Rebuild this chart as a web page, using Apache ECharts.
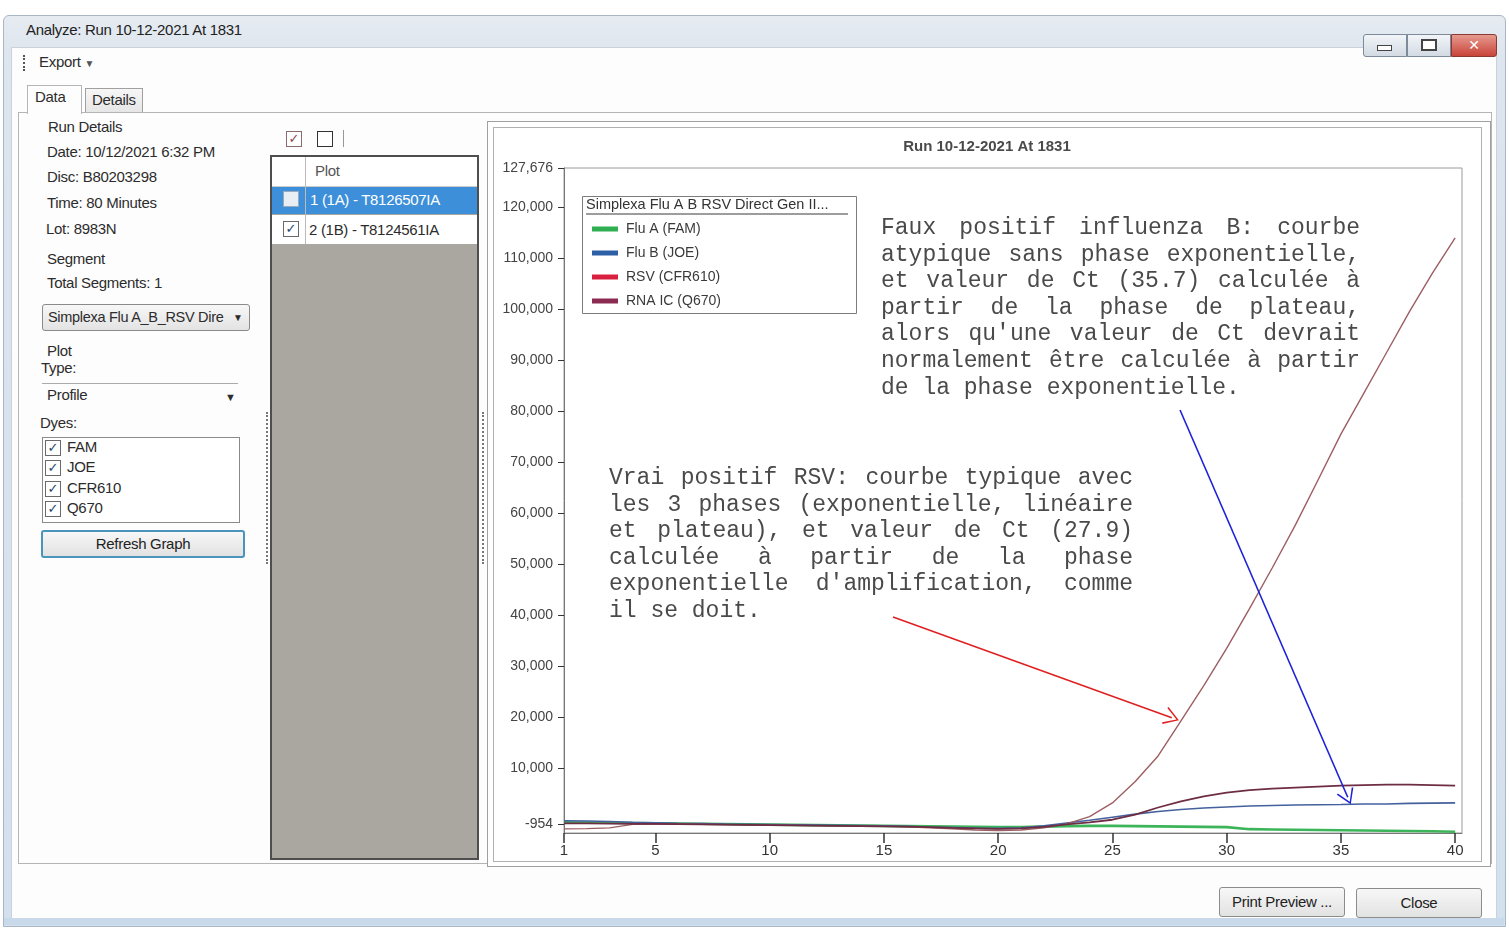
<!DOCTYPE html>
<html><head><meta charset="utf-8">
<script src="https://cdn.jsdelivr.net/npm/echarts@6/dist/echarts.min.js"></script>
<style>
html,body{margin:0;padding:0;width:1509px;height:929px;overflow:hidden;background:#fff;font-family:"Liberation Sans",Arial,sans-serif;color:#2e2e2e;}
.a{position:absolute;}
.t{position:absolute;font-size:15px;letter-spacing:-0.3px;white-space:nowrap;line-height:18px;color:#2c2c2c;}
.cb{position:absolute;width:14px;height:14px;border:1px solid #6a6a6a;background:#fff;font-family:"DejaVu Sans",sans-serif;font-size:13px;line-height:14px;text-align:center;color:#24476e;font-weight:bold;}
.btn{position:absolute;border:1px solid #8c8c8c;border-radius:3px;background:linear-gradient(#f7f7f7,#e2e2e2);font-size:15px;letter-spacing:-0.3px;text-align:center;color:#222;}
.ann{position:absolute;font-family:"Liberation Mono","Courier New",monospace;font-size:23px;line-height:26.6px;color:#4a4a4a;z-index:10;pointer-events:none;}
.ann div{text-align:justify;text-align-last:justify;white-space:nowrap;}
.ann div.last{text-align:left;text-align-last:left;}
</style></head><body>
<!-- window frame -->
<div class="a" style="left:3px;top:15px;width:1501px;height:910px;border:1px solid #aab6c4;border-radius:6px 6px 0 0;background:linear-gradient(#e6ebf1,#dde5ee 40px,#d3e0ee);"></div>
<div class="t" style="left:26px;top:21px;color:#222;">Analyze: Run 10-12-2021 At 1831</div>
<!-- client area -->
<div class="a" style="left:11px;top:47px;width:1484px;height:870px;background:#fdfdfd;border:1px solid #c9d1da;"></div>
<!-- window buttons -->
<div class="a" style="left:1363px;top:34px;width:42px;height:21px;border:1px solid #7d8a99;border-radius:3px 0 0 3px;background:linear-gradient(#f2f5f8,#d2dae3);"></div>
<div class="a" style="left:1377px;top:45px;width:13px;height:4px;border:1px solid #444;background:#fff;"></div>
<div class="a" style="left:1407px;top:34px;width:42px;height:21px;border:1px solid #7d8a99;background:linear-gradient(#f2f5f8,#d2dae3);"></div>
<div class="a" style="left:1421px;top:39px;width:12px;height:8px;border:2px solid #444;background:#fff;"></div>
<div class="a" style="left:1451px;top:34px;width:44px;height:21px;border:1px solid #8a3a33;border-radius:0 3px 3px 0;background:linear-gradient(#e79a8f,#c9443a);color:#fff;font:bold 14px 'DejaVu Sans';text-align:center;line-height:21px;">✕</div>
<div class="a" style="left:23px;top:55px;width:2px;height:16px;border-left:2px dotted #555;"></div>
<div class="t" style="left:39px;top:53px;">Export <span style="font-size:10px;color:#555;">▼</span></div>
<!-- tabs -->
<div class="a" style="left:18px;top:112px;width:1472px;height:750px;border:1px solid #b5b5b5;background:#fdfdfd;"></div>
<div class="a" style="left:27px;top:85px;width:53px;height:28px;border:1px solid #b5b5b5;border-bottom:none;background:#fdfdfd;"></div>
<div class="t" style="left:35px;top:88px;">Data</div>
<div class="a" style="left:85px;top:88px;width:56px;height:23px;border:1px solid #a0a0a0;border-bottom:none;background:linear-gradient(#f6f6f6,#e6e6e6);"></div>
<div class="t" style="left:92px;top:91px;">Details</div>
<!-- left panel -->
<div class="t" style="left:48px;top:118px;">Run Details</div>
<div class="t" style="left:47px;top:143px;">Date: 10/12/2021 6:32 PM</div>
<div class="t" style="left:47px;top:168px;">Disc: B80203298</div>
<div class="t" style="left:47px;top:194px;">Time: 80 Minutes</div>
<div class="t" style="left:46px;top:220px;">Lot: 8983N</div>
<div class="t" style="left:47px;top:250px;">Segment</div>
<div class="t" style="left:47px;top:274px;">Total Segments: 1</div>
<div class="a" style="left:42px;top:304px;width:206px;height:25px;border:1px solid #8a8a8a;border-radius:3px;background:linear-gradient(#f7f7f7,#e3e3e3);"></div>
<div class="t" style="left:48px;top:308px;font-size:14.5px;">Simplexa Flu A_B_RSV Dire</div>
<div class="t" style="left:233px;top:309px;font-size:10px;">▼</div>
<div class="t" style="left:47px;top:342px;">Plot</div>
<div class="t" style="left:41px;top:359px;">Type:</div>
<div class="a" style="left:42px;top:383px;width:196px;height:0;border-top:1px solid #aaa;"></div>
<div class="t" style="left:47px;top:386px;">Profile</div>
<div class="t" style="left:225px;top:388px;font-size:11px;">▼</div>
<div class="t" style="left:40px;top:414px;">Dyes:</div>
<div class="a" style="left:42px;top:437px;width:196px;height:84px;border:1px solid #8a8a8a;background:#fff;"></div>
<div class="cb" style="left:45px;top:440px;">✓</div><div class="t" style="left:67px;top:438px;">FAM</div>
<div class="cb" style="left:45px;top:460px;">✓</div><div class="t" style="left:67px;top:458px;">JOE</div>
<div class="cb" style="left:45px;top:481px;">✓</div><div class="t" style="left:67px;top:479px;">CFR610</div>
<div class="cb" style="left:45px;top:501px;">✓</div><div class="t" style="left:67px;top:499px;">Q670</div>
<div class="btn" style="left:41px;top:530px;width:200px;height:24px;line-height:24px;border:2px solid #4a95bb;">Refresh Graph</div>
<!-- splitters -->
<div class="a" style="left:266px;top:412px;width:0;height:152px;border-left:2px dotted #777;"></div>
<div class="a" style="left:482px;top:412px;width:0;height:152px;border-left:2px dotted #777;"></div>
<!-- plot list -->
<div class="cb" style="left:286px;top:131px;color:#8a4a50;border-color:#8a6a6a;">✓</div>
<div class="cb" style="left:317px;top:131px;border-color:#333;"></div>
<div class="a" style="left:343px;top:130px;width:0;height:17px;border-left:1px solid #999;"></div>
<div class="a" style="left:270px;top:155px;width:205px;height:701px;border:2px solid #4e4e4e;background:#aaa7a1;"></div>
<div class="a" style="left:272px;top:157px;width:205px;height:29px;background:#fff;border-bottom:1px solid #ccc;"></div>
<div class="t" style="left:315px;top:162px;color:#555;">Plot</div>
<div class="a" style="left:272px;top:187px;width:205px;height:27px;background:#3c8fd8;"></div>
<div class="cb" style="left:283px;top:191px;background:#e8eef4;border-color:#9ab;"></div>
<div class="t" style="left:310px;top:191px;color:#fff;">1 (1A) - T8126507IA</div>
<div class="a" style="left:272px;top:215px;width:205px;height:29px;background:#fff;"></div>
<div class="cb" style="left:283px;top:221px;">✓</div>
<div class="t" style="left:309px;top:221px;">2 (1B) - T8124561IA</div>
<div class="a" style="left:305px;top:157px;width:0;height:87px;border-left:1px solid #bbb;"></div>
<!-- chart panel -->
<div class="a" style="left:487px;top:121px;width:1002px;height:744px;border:1px solid #a0a0a0;background:#fff;"></div>
<div class="a" style="left:493px;top:127px;width:987px;height:733px;border:1px solid #b0b0b0;background:#fff;"></div>
<div id="chart" class="a" style="left:494px;top:128px;width:986px;height:732px;"></div>
<!-- annotations -->
<div class="ann" style="left:881px;top:215px;width:479px;">
<div>Faux positif influenza B: courbe</div>
<div>atypique sans phase exponentielle,</div>
<div>et valeur de Ct (35.7) calculée à</div>
<div>partir de la phase de plateau,</div>
<div>alors qu'une valeur de Ct devrait</div>
<div>normalement être calculée à partir</div>
<div class="last">de la phase exponentielle.</div>
</div>
<div class="ann" style="left:609px;top:465px;width:524px;">
<div>Vrai positif RSV: courbe typique avec</div>
<div>les 3 phases (exponentielle, linéaire</div>
<div>et plateau), et valeur de Ct (27.9)</div>
<div>calculée à partir de la phase</div>
<div>exponentielle d'amplification, comme</div>
<div class="last">il se doit.</div>
</div>
<!-- bottom buttons -->
<div class="btn" style="left:1219px;top:887px;width:124px;height:28px;line-height:28px;">Print Preview ...</div>
<div class="btn" style="left:1356px;top:888px;width:124px;height:28px;line-height:28px;">Close</div>
<div class="a" style="left:4px;top:918px;width:1500px;height:7px;background:#c8d9ea;"></div>
<script>
// ---- data ----
const cycles = [1,2,3,4,5,6,7,8,9,10,11,12,13,14,15,16,17,18,19,20,21,22,23,24,25,26,27,28,29,30,31,32,33,34,35,36,37,38,39,40];
const famValues = [-600,-650,-700,-750,-800,-850,-900,-950,-1000,-1050,-1100,-1150,-1200,-1250,-1300,-1350,-1400,-1450,-1500,-1550,-1550,-1450,-1350,-1300,-1300,-1350,-1400,-1450,-1500,-1550,-1950,-2000,-2050,-2100,-2150,-2200,-2250,-2300,-2350,-2450];
const joeValues = [-300,-350,-450,-600,-700,-800,-850,-950,-1000,-1050,-1100,-1150,-1200,-1250,-1300,-1400,-1550,-1650,-1750,-1800,-1700,-1300,-750,-200,400,1000,1500,1900,2200,2400,2600,2700,2800,2850,2900,3000,3000,3100,3150,3200];
const cfrValues = [-1900,-1850,-1700,-1000,-950,-950,-1000,-1050,-1100,-1150,-1200,-1250,-1300,-1350,-1400,-1500,-1700,-1900,-2100,-2200,-2100,-1700,-900,500,3200,7400,12400,19300,26200,33500,41300,49300,57600,66500,75500,83500,91500,99500,107000,114000];
const q670Values = [-800,-800,-850,-900,-900,-950,-1000,-1050,-1100,-1150,-1200,-1250,-1300,-1350,-1400,-1450,-1550,-1700,-1800,-1900,-1800,-1500,-1000,-600,-100,900,2300,3500,4500,5200,5700,6000,6200,6400,6600,6700,6800,6800,6700,6600];
const seriesNames = ['Flu A (FAM)','Flu B (JOE)','RSV (CFR610)','RNA IC (Q670)'];
const xTicks = [1,5,10,15,20,25,30,35,40];
const yTicks = [-954,10000,20000,30000,40000,50000,60000,70000,80000,90000,100000,110000,120000,127676];
const chartTitle = 'Run 10-12-2021 At 1831';
const legendTitle = 'Simplexa Flu A B RSV Direct Gen II...';

const legendColors = ['#2fae52','#2d5fa6','#d9203f','#8b2b52'];
const lineColors = ['#3cb45a','#44619e','#9c5e62','#6e2d42'];
const pair = v => v.map((y,i)=>[cycles[i], y]);
const chevron = 'path://M10,0 L20,18 L18.4,19 L10,3.2 L1.6,19 L0,18 Z';

const chart = echarts.init(document.getElementById('chart'), null, {renderer:'canvas'});
chart.setOption({
  animation:false,
  title:{text:chartTitle,left:'center',top:6,textStyle:{fontFamily:'Liberation Sans',fontSize:15,fontWeight:'bold',color:'#4a4a4a'}},
  grid:{left:70,top:40,width:898,height:665,show:true,borderColor:'#9a9a9a',borderWidth:1,backgroundColor:'transparent'},
  legend:{
    orient:'vertical',left:93,top:88,itemWidth:26,itemHeight:5,itemGap:8,icon:'rect',
    textStyle:{fontFamily:'Liberation Sans',fontSize:14,color:'#3a3a3a',lineHeight:16,padding:[0,0,0,3]},
    data:seriesNames.map((n,i)=>({name:n,itemStyle:{color:legendColors[i]}})),
    selectedMode:false
  },
  graphic:[
    {type:'rect',left:88,top:68,shape:{width:274,height:117},style:{fill:'#fff',stroke:'#7c7c7c',lineWidth:1},z:-1},
    {type:'text',left:92,top:69,style:{text:legendTitle,font:'14.5px "Liberation Sans"',fill:'#333'}},
    {type:'line',shape:{x1:92,y1:86,x2:354,y2:86},style:{stroke:'#3a3a3a',lineWidth:1}}
  ],
  xAxis:{type:'value',min:1,max:40.3,
    axisLine:{show:true,onZero:false,lineStyle:{color:'#777'}},
    axisTick:{show:true,length:10,lineStyle:{color:'#333',width:1.5},customValues:xTicks},
    axisLabel:{customValues:xTicks,margin:10,fontFamily:'Liberation Sans',fontSize:15,color:'#333'},
    splitLine:{show:false}},
  yAxis:{type:'value',min:-2700,max:127676,
    axisLine:{show:true,onZero:false,lineStyle:{color:'#777'}},
    axisTick:{show:true,length:6,lineStyle:{color:'#333'},customValues:yTicks},
    axisLabel:{customValues:yTicks,margin:11,fontFamily:'Liberation Sans',fontSize:14,color:'#444',
      formatter:v=>Math.round(v).toLocaleString('en-US')},
    splitLine:{show:false}},
  series:[
    {name:seriesNames[0],type:'line',data:pair(famValues),showSymbol:false,lineStyle:{color:lineColors[0],width:2.6},itemStyle:{color:lineColors[0]},
      markLine:{silent:true,symbol:['none',chevron],symbolSize:[18,15],label:{show:false},
        lineStyle:{type:'solid',width:1.6},
        data:[
          [{coord:[15.4,39650],lineStyle:{color:'#e02020',width:1.6,type:'solid'},itemStyle:{color:'#e02020'}},{coord:[27.6,19900]}],
          [{coord:[27.96,80230],lineStyle:{color:'#1d22d8',width:1.6,type:'solid'},itemStyle:{color:'#1d22d8'}},{coord:[35.3,4300]}]
        ]}},
    {name:seriesNames[1],type:'line',data:pair(joeValues),showSymbol:false,lineStyle:{color:lineColors[1],width:1.6},itemStyle:{color:lineColors[1]}},
    {name:seriesNames[2],type:'line',data:pair(cfrValues),showSymbol:false,lineStyle:{color:lineColors[2],width:1.4},itemStyle:{color:lineColors[2]}},
    {name:seriesNames[3],type:'line',data:pair(q670Values),showSymbol:false,lineStyle:{color:lineColors[3],width:1.8},itemStyle:{color:lineColors[3]}}
  ]
});
</script>
</body></html>
